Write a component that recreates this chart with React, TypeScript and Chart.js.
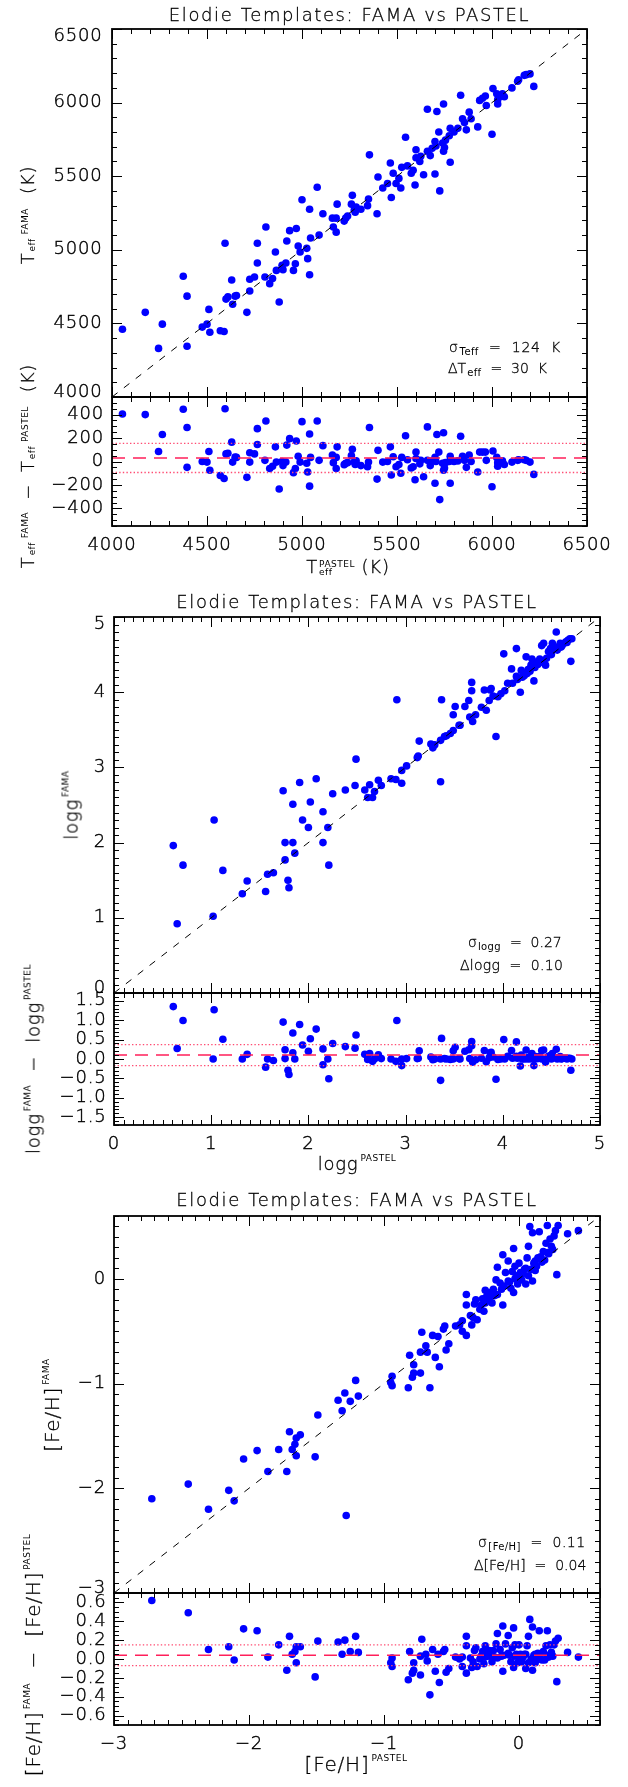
import React, { useEffect, useRef } from 'react';
import { Chart, registerables } from 'chart.js';

Chart.register(...registerables);

const W = 628;
const H = 1787;
const FONT = '"DejaVu Sans", "Liberation Sans", sans-serif';
const WEIGHT = 200;
const INK = '#000';
const BLUE = '#0000ff';
const PINK = '#ff1f5a';
const PINK_DOT = '#ff4d73';
const LABEL_SIZE = 18;
const LABEL_LS = '0.8px';
const STROKE = 0.4;

// ---------- Panel 1: Teff ----------
const TEFF_PASTEL = [
  4055, 4175, 4265, 4245, 4395, 4375, 4395, 4475, 4500, 4515,
  4510, 4570, 4590, 4595, 4600, 4610, 4630, 4635, 4655, 4710,
  4725, 4725, 4750, 4765, 4765, 4805, 4810, 4830, 4845, 4860,
  4865, 4880, 4895, 4900, 4915, 4920, 4935, 4955, 4965, 4970,
  4980, 4990, 5000, 5025, 5030, 5040, 5040, 5045,
  5080, 5090, 5110, 5160, 5165, 5180, 5185, 5180, 5230, 5240,
  5260, 5265, 5275, 5285, 5310, 5345, 5350, 5355, 5395, 5400,
  5425, 5450, 5465, 5470, 5480, 5495, 5510, 5520, 5525, 5545,
  5555, 5575, 5585, 5595, 5600, 5600, 5620, 5625, 5640, 5660,
  5660, 5675, 5700, 5700, 5705, 5710, 5725, 5720, 5740, 5745,
  5745, 5755, 5775, 5780, 5780, 5800, 5820, 5835, 5845, 5855,
  5865, 5880, 5890, 5925, 5935, 5950, 5965, 5970, 6000, 6005,
  6025, 6030, 6030, 6040, 6055, 6065, 6105, 6135, 6140, 6170,
  6180, 6200, 6220,
  4648, 5222, 5280, 5685, 5750,
];
const TEFF_FAMA = [
  4460, 4575, 4495, 4330, 4345, 4820, 4685, 4475, 4495, 4440,
  4595, 4450, 4445, 5045, 4665, 4680, 4795, 4630, 4690, 4575,
  4720, 4800, 4815, 5045, 4910, 4815, 5155, 4770, 4805, 4985,
  4860, 4645, 4895, 4865, 4910, 5060, 5130, 4860, 4905, 5145,
  5025, 4985, 5340, 5010, 4940, 4830, 5275, 5080,
  5425, 5100, 5245, 5215, 5155, 5120, 5310, 5215, 5215, 5230,
  5310, 5370, 5270, 5290, 5275, 5300, 5345, 5645, 5245, 5495,
  5420, 5450, 5590, 5355, 5520, 5450, 5485, 5420, 5560, 5765,
  5570, 5520, 5540, 5440, 5625, 5680, 5600, 5635, 5510, 5670,
  5955, 5640, 5735, 5515, 5705, 5940, 5400, 5800, 5725, 5670,
  5990, 5745, 5775, 5825, 5595, 5800, 5825, 6050, 5890, 5865,
  5815, 5935, 5890, 5835, 6015, 6030, 6045, 5980, 5785, 6095,
  6060, 5990, 6020, 6040, 6060, 6040, 6100, 6145, 6155, 6185,
  6190, 6195, 6110,
  4685, 5195, 5255, 5690, 5695,
];
const TEFF_TICKS = [4000, 4500, 5000, 5500, 6000, 6500];
const TEFF_RES_TICKS = [-400, -200, 0, 200, 400];
const TEFF_MEAN = 30;
const TEFF_SIGMA = 124;

// ---------- Panel 2: logg ----------
const LOGG_PASTEL = [
  0.61, 0.65, 0.71, 1.02, 1.03, 1.12, 1.32, 1.37, 1.56, 1.58,
  1.64, 1.74, 1.76, 1.76, 1.79, 1.80, 1.84, 1.84, 1.86, 1.91,
  1.94, 2.00, 2.02, 2.08, 2.15, 2.15, 2.20, 2.21, 2.25, 2.38,
  2.48, 2.49, 2.58, 2.61, 2.63, 2.66, 2.68, 2.72, 2.75, 2.85,
  2.90, 2.91, 2.96, 2.96, 3.01, 3.12, 3.13, 3.14, 3.26, 3.28,
  3.29, 3.36, 3.36, 3.37, 3.40, 3.46, 3.49, 3.49, 3.51, 3.55,
  3.61, 3.65, 3.66, 3.68, 3.68, 3.69, 3.72, 3.78, 3.81, 3.83,
  3.86, 3.87, 3.88, 3.90, 3.93, 3.95, 3.98, 4.01, 4.02, 4.05,
  4.09, 4.14, 4.14, 4.18, 4.19, 4.22, 4.24, 4.26, 4.29, 4.30,
  4.32, 4.34, 4.38, 4.40, 4.42, 4.44, 4.47, 4.49, 4.51, 4.53,
  4.55, 4.57, 4.59, 4.61, 4.63, 4.65, 4.67, 4.69, 4.70, 4.71,
  4.10, 4.15, 4.20, 4.25, 4.28, 4.33, 4.36, 4.40, 4.45, 4.50,
  4.56, 4.60, 4.66, 3.30, 3.42, 3.56,
];
const LOGG_FAMA = [
  1.96, 0.92, 1.70, 1.02, 2.30, 1.63, 1.32, 1.49, 1.35, 1.58,
  1.60, 2.69, 2.00, 1.77, 1.50, 1.40, 2.51, 2.00, 1.86, 2.80,
  2.30, 2.20, 2.54, 2.85, 2.41, 2.00, 2.20, 1.70, 2.65, 2.70,
  2.76, 3.11, 2.70, 2.60, 2.77, 2.60, 2.68, 2.83, 2.76, 2.85,
  2.84, 3.90, 2.79, 2.96, 3.02, 3.13, 3.15, 3.35, 3.31, 3.26,
  3.29, 2.81, 3.36, 3.90, 3.41, 3.45, 3.49, 3.70, 3.81, 3.56,
  3.81, 3.89, 3.67, 4.13, 4.02, 3.61, 3.70, 3.80, 4.03, 3.76,
  3.89, 4.03, 4.05, 3.95, 3.41, 3.94, 3.98, 4.51, 4.02, 4.12,
  4.31, 4.58, 4.21, 4.00, 4.29, 4.22, 4.47, 4.30, 4.36, 4.44,
  4.15, 4.40, 4.44, 4.62, 4.65, 4.36, 4.54, 4.58, 4.65, 4.57,
  4.80, 4.60, 4.65, 4.62, 4.65, 4.67, 4.69, 4.71, 4.41, 4.71,
  4.12, 4.17, 4.20, 4.25, 4.28, 4.33, 4.37, 4.40, 4.45, 4.50,
  4.56, 4.60, 4.66, 3.30, 3.42, 3.56,
];
const LOGG_TICKS = [0, 1, 2, 3, 4, 5];
const LOGG_RES_TICKS = [-1.5, -1.0, -0.5, 0.0, 0.5, 1.0, 1.5];
const LOGG_MEAN = 0.10;
const LOGG_SIGMA = 0.27;

// ---------- Panel 3: [Fe/H] ----------
const FEH_PASTEL = [
  -2.72, -2.45, -2.30, -2.15, -2.11, -2.04, -1.94, -1.86, -1.78, -1.72,
  -1.70, -1.68, -1.66, -1.65, -1.65, -1.62, -1.51, -1.49, -1.34, -1.31,
  -1.29, -1.25, -1.21, -1.19, -1.28, -0.95, -0.94, -0.94, -0.82, -0.81,
  -0.79, -0.78, -0.78, -0.73, -0.73, -0.72, -0.69, -0.68, -0.66, -0.64,
  -0.62, -0.60, -0.59, -0.56, -0.55, -0.54, -0.52, -0.47, -0.44, -0.42,
  -0.42, -0.39, -0.39, -0.39, -0.36, -0.35, -0.34, -0.33, -0.32, -0.31,
  -0.29, -0.28, -0.26, -0.25, -0.25, -0.24, -0.23, -0.22, -0.20, -0.16,
  -0.16, -0.17, -0.14, -0.12, -0.12, -0.11, -0.10, -0.08, -0.08, -0.06,
  -0.05, -0.04, -0.04, -0.03, -0.02, -0.01, 0.00, 0.01, 0.02, 0.04,
  0.05, 0.06, 0.07, 0.07, 0.08, 0.10, 0.09, 0.10, 0.11, 0.12,
  0.14, 0.15, 0.16, 0.18, 0.20, 0.21, 0.23, 0.24, 0.26, 0.27,
  0.28, 0.29, 0.21, 0.36, 0.44,
  -0.22, -0.19, -0.13, -0.07, -0.03, 0.00, 0.03, 0.05, 0.12, 0.17,
  0.22, 0.25, -0.27, -0.18, 0.13, 0.19,
];
const FEH_FAMA = [
  -2.10, -1.96, -2.20, -2.02, -2.12, -1.72, -1.64, -1.84, -1.63, -1.84,
  -1.46, -1.63, -1.58, -1.52, -1.69, -1.49, -1.70, -1.30, -1.16, -1.26,
  -1.09, -1.17, -0.97, -1.12, -2.26, -0.99, -1.02, -0.93, -1.04, -0.73,
  -0.94, -0.82, -0.90, -0.90, -0.70, -0.51, -0.64, -0.70, -1.04, -0.54,
  -0.75, -0.55, -0.84, -0.48, -0.45, -0.68, -0.62, -0.45, -0.44, -0.40,
  -0.50, -0.54, -0.15, -0.25, -0.35, -0.44, -0.37, -0.24, -0.20, -0.39,
  -0.29, -0.25, -0.31, -0.11, -0.23, -0.17, -0.20, -0.13, -0.23, -0.15,
  0.11, -0.01, -0.04, 0.23, -0.25, -0.07, 0.06, 0.17, -0.02, -0.09,
  0.07, 0.29, -0.13, 0.12, 0.03, -0.05, 0.15, 0.06, -0.01, 0.09,
  -0.05, 0.20, 0.31, 0.03, 0.50, 0.44, 0.09, -0.02, 0.15, 0.17,
  0.20, 0.45, 0.21, 0.26, 0.34, 0.25, 0.38, 0.31, 0.41, 0.46,
  0.04, 0.51, 0.51, 0.43, 0.46,
  -0.18, -0.10, -0.10, -0.03, 0.00, 0.02, 0.05, 0.10, 0.08, 0.16,
  0.24, 0.28, -0.19, -0.16, 0.12, 0.18,
];
const FEH_TICKS = [-3, -2, -1, 0];
const FEH_RES_TICKS = [-0.6, -0.4, -0.2, 0.0, 0.2, 0.4, 0.6];
const FEH_MEAN = 0.04;
const FEH_SIGMA = 0.11;

// ---------- helpers ----------
function steps(min: number, max: number, step: number): number[] {
  const out: number[] = [];
  const a = Math.ceil(min / step - 1e-9);
  const b = Math.floor(max / step + 1e-9);
  for (let i = a; i <= b; i++) out.push(+(i * step).toFixed(6));
  return out;
}

const fmt = (dec: number) => (v: number) => {
  const s = Math.abs(v).toFixed(dec);
  return (v < -1e-9 ? '\u2212' : '') + s;
};

const pts = (xs: number[], ys: number[]) => xs.map((x, i) => ({ x, y: ys[i] }));
const resid = (xs: number[], ys: number[]) => xs.map((x, i) => ({ x, y: +(ys[i] - x).toFixed(4) }));

const scatterDs = (data: { x: number; y: number }[]) => ({
  data,
  pointRadius: 3.8,
  pointBackgroundColor: BLUE,
  pointBorderColor: BLUE,
  pointBorderWidth: 0,
  order: 1,
});

const lineDs = (x0: number, y0: number, x1: number, y1: number, color: string, width: number, dash: number[]) => ({
  type: 'line' as const,
  data: [{ x: x0, y: y0 }, { x: x1, y: y1 }],
  borderColor: color,
  borderWidth: width,
  borderDash: dash,
  pointRadius: 0,
  fill: false,
  tension: 0,
  order: 0,
});

type PanelProps = {
  top: number;
  bottom: number;
  left: number;
  right: number;
  xMin: number;
  xMax: number;
  yMin: number;
  yMax: number;
  xLabels: number[];
  yLabels: number[];
  xMinorStep: number;
  yMinorStep: number;
  showX: boolean;
  labelGap: number;
  xFmt: (v: number) => string;
  yFmt: (v: number) => string;
  datasets: any[];
};

function Panel(p: PanelProps) {
  const ref = useRef<HTMLCanvasElement>(null);
  const padTop = 14;
  const padBottom = p.showX ? 0 : 14;
  const xAxisH = p.showX ? 62 : 0;
  const ch = padTop + (p.bottom - p.top) + padBottom + xAxisH;

  useEffect(() => {
    const xMinor = steps(p.xMin, p.xMax, p.xMinorStep);
    const yMinor = steps(p.yMin, p.yMax, p.yMinorStep);
    const framePlugin = {
      id: 'idlFrame',
      beforeDraw(chart: any) {
        try {
          chart.ctx.letterSpacing = LABEL_LS;
        } catch (e) {
          /* ignore */
        }
      },
      afterDraw(chart: any) {
        const { ctx, chartArea: a, scales } = chart;
        const sx = scales.x;
        const sy = scales.y;
        ctx.save();
        // tick marks, inward on all four sides
        ctx.strokeStyle = '#000';
        ctx.lineWidth = 1;
        ctx.setLineDash([]);
        ctx.beginPath();
        const xt = (v: number, len: number) => {
          const px = Math.round(sx.getPixelForValue(v)) + 0.5;
          ctx.moveTo(px, a.bottom);
          ctx.lineTo(px, a.bottom - len);
          ctx.moveTo(px, a.top);
          ctx.lineTo(px, a.top + len);
        };
        const yt = (v: number, len: number) => {
          const py = Math.round(sy.getPixelForValue(v)) + 0.5;
          ctx.moveTo(a.left, py);
          ctx.lineTo(a.left + len, py);
          ctx.moveTo(a.right, py);
          ctx.lineTo(a.right - len, py);
        };
        xMinor.forEach((v) => xt(v, 5));
        p.xLabels.forEach((v) => xt(v, 10));
        yMinor.forEach((v) => yt(v, 5));
        p.yLabels.forEach((v) => yt(v, 10));
        ctx.stroke();
        ctx.lineWidth = 1.8;
        ctx.strokeRect(a.left, a.top, a.right - a.left, a.bottom - a.top);

        // y tick labels (edge labels nudged inside the frame, as in the original)
        ctx.font = `${WEIGHT} ${LABEL_SIZE}px ${FONT}`;
        ctx.fillStyle = INK;
        ctx.strokeStyle = INK;
        ctx.lineWidth = STROKE;
        ctx.textAlign = 'right';
        ctx.textBaseline = 'middle';
        try {
          ctx.letterSpacing = LABEL_LS;
        } catch (e) {
          /* ignore */
        }
        p.yLabels.forEach((v) => {
          let py = sy.getPixelForValue(v);
          if (Math.abs(v - p.yMax) < 1e-9) py += 7.5;
          if (Math.abs(v - p.yMin) < 1e-9) py -= 5;
          const s = p.yFmt(v);
          ctx.fillText(s, a.left - p.labelGap, py);
          ctx.strokeText(s, a.left - p.labelGap, py);
        });
        ctx.restore();
      },
    };

    const tickFont = { family: FONT, size: LABEL_SIZE, weight: WEIGHT };
    const chart = new Chart(ref.current as HTMLCanvasElement, {
      type: 'scatter',
      data: { datasets: p.datasets },
      options: {
        animation: false,
        responsive: false,
        events: [],
        layout: { padding: { left: 0, right: W - p.right, top: padTop, bottom: padBottom } },
        plugins: { legend: { display: false }, tooltip: { enabled: false } },
        scales: {
          x: {
            type: 'linear',
            position: 'bottom',
            min: p.xMin,
            max: p.xMax,
            grid: { display: false, drawTicks: false },
            border: { display: false },
            ticks: {
              display: p.showX,
              font: tickFont,
              color: INK,
              textStrokeColor: INK,
              textStrokeWidth: STROKE,
              padding: 9,
              maxRotation: 0,
              autoSkip: false,
              callback: (v: any) => p.xFmt(Number(v)),
            },
            afterBuildTicks: (s: any) => {
              s.ticks = p.xLabels.map((v) => ({ value: v }));
            },
            afterFit: (s: any) => {
              s.height = xAxisH;
            },
          },
          y: {
            type: 'linear',
            position: 'left',
            min: p.yMin,
            max: p.yMax,
            grid: { display: false, drawTicks: false },
            border: { display: false },
            ticks: { display: false },
            afterBuildTicks: (s: any) => {
              s.ticks = p.yLabels.map((v) => ({ value: v }));
            },
            afterFit: (s: any) => {
              s.width = p.left;
            },
          },
        },
      } as any,
      plugins: [framePlugin],
    });
    return () => chart.destroy();
  }, []);

  return (
    <canvas
      ref={ref}
      width={W}
      height={ch}
      style={{ position: 'absolute', left: 0, top: p.top - padTop, width: W, height: ch }}
    />
  );
}

// ---------- text helpers ----------
const baseText: React.CSSProperties = {
  position: 'absolute',
  fontFamily: FONT,
  fontWeight: WEIGHT,
  lineHeight: 1,
  color: INK,
  whiteSpace: 'pre',
  WebkitTextStroke: `${STROKE * 0.75}px ${INK}`,
};

const Txt = ({ x, y, rot = false, size = 18, ls = 0.8, children }: any) => (
  <div
    style={{
      ...baseText,
      left: x,
      top: y,
      transform: `translate(-50%, -50%)${rot ? ' rotate(-90deg)' : ''}`,
      fontSize: size,
      letterSpacing: ls,
    }}
  >
    {children}
  </div>
);

const TxtL = ({ x, base, size = 14, ls = 0, children }: any) => (
  <div
    style={{
      ...baseText,
      left: x,
      top: base - Math.round(size * 0.846),
      fontSize: size,
      letterSpacing: ls,
    }}
  >
    {children}
  </div>
);

const small: React.CSSProperties = { fontWeight: 400, WebkitTextStroke: '0px' };

// stacked super/subscript (sup above, sub below, same start)
const SS = ({ sup, sub }: any) => (
  <span
    style={{
      ...small,
      display: 'inline-flex',
      flexDirection: 'column',
      fontSize: 9,
      lineHeight: '8px',
      verticalAlign: '6.5px',
      letterSpacing: 0.5,
      marginLeft: 1,
    }}
  >
    <span>{sup}</span>
    <span>{sub}</span>
  </span>
);
const Sup = ({ t, up = 9, ml = 2 }: any) => (
  <span style={{ ...small, fontSize: 9, verticalAlign: `${up}px`, letterSpacing: 0.5, marginLeft: ml }}>{t}</span>
);
const Sub = ({ t, d = 1, size = 9 }: any) => (
  <span style={{ ...small, fontSize: size, verticalAlign: `-${d}px`, letterSpacing: 0.4, marginLeft: 1 }}>{t}</span>
);
const Gap = ({ w }: any) => <span style={{ display: 'inline-block', width: w }} />;

// "T_eff" followed by a superscript, written one after the other
const Teff = ({ sup }: any) => (
  <>
    T<Sub t="eff" d={1} />
    <Sup t={sup} up={6.5} ml={4} />
  </>
);

const TITLE = 'Elodie Templates: FAMA vs PASTEL';

export default function App() {
  useEffect(() => {
    document.body.style.margin = '0';
  }, []);

  const f0 = fmt(0);
  const f1 = fmt(1);

  return (
    <div
      style={{
        position: 'absolute',
        left: 0,
        top: 0,
        width: W,
        height: H,
        overflow: 'hidden',
        background: '#fff',
      }}
    >
      {/* Panel 1 */}
      <Panel
        top={29} bottom={397} left={112} right={587}
        xMin={4000} xMax={6500} yMin={4000} yMax={6500}
        xLabels={TEFF_TICKS} yLabels={TEFF_TICKS}
        xMinorStep={100} yMinorStep={100}
        showX={false} labelGap={9.5} xFmt={f0} yFmt={f0}
        datasets={[
          scatterDs(pts(TEFF_PASTEL, TEFF_FAMA)),
          lineDs(4000, 4000, 6500, 6500, '#000', 1, [7, 8]),
        ]}
      />
      <Panel
        top={397} bottom={526} left={112} right={587}
        xMin={4000} xMax={6500} yMin={-550} yMax={550}
        xLabels={TEFF_TICKS} yLabels={TEFF_RES_TICKS}
        xMinorStep={100} yMinorStep={50}
        showX={true} labelGap={8} xFmt={f0} yFmt={f0}
        datasets={[
          scatterDs(resid(TEFF_PASTEL, TEFF_FAMA)),
          lineDs(4000, TEFF_MEAN, 6500, TEFF_MEAN, PINK, 1.5, [13, 8]),
          lineDs(4000, TEFF_MEAN + TEFF_SIGMA, 6500, TEFF_MEAN + TEFF_SIGMA, PINK_DOT, 1.3, [1.4, 2.2]),
          lineDs(4000, TEFF_MEAN - TEFF_SIGMA, 6500, TEFF_MEAN - TEFF_SIGMA, PINK_DOT, 1.3, [1.4, 2.2]),
        ]}
      />

      {/* Panel 2 */}
      <Panel
        top={617} bottom={993} left={114} right={600}
        xMin={0} xMax={5} yMin={0} yMax={5}
        xLabels={LOGG_TICKS} yLabels={LOGG_TICKS}
        xMinorStep={0.1} yMinorStep={0.1}
        showX={false} labelGap={8} xFmt={f0} yFmt={f0}
        datasets={[
          scatterDs(pts(LOGG_PASTEL, LOGG_FAMA)),
          lineDs(0, 0, 5, 5, '#000', 1, [7, 8]),
        ]}
      />
      <Panel
        top={993} bottom={1125} left={114} right={600}
        xMin={0} xMax={5} yMin={-1.7} yMax={1.7}
        xLabels={LOGG_TICKS} yLabels={LOGG_RES_TICKS}
        xMinorStep={0.1} yMinorStep={0.1}
        showX={true} labelGap={7.5} xFmt={f0} yFmt={f1}
        datasets={[
          scatterDs(resid(LOGG_PASTEL, LOGG_FAMA)),
          lineDs(0, LOGG_MEAN, 5, LOGG_MEAN, PINK, 1.5, [13, 8]),
          lineDs(0, LOGG_MEAN + LOGG_SIGMA, 5, LOGG_MEAN + LOGG_SIGMA, PINK_DOT, 1.3, [1.4, 2.2]),
          lineDs(0, LOGG_MEAN - LOGG_SIGMA, 5, LOGG_MEAN - LOGG_SIGMA, PINK_DOT, 1.3, [1.4, 2.2]),
        ]}
      />

      {/* Panel 3 */}
      <Panel
        top={1216} bottom={1593} left={114} right={600}
        xMin={-3} xMax={0.6} yMin={-3} yMax={0.6}
        xLabels={FEH_TICKS} yLabels={FEH_TICKS}
        xMinorStep={0.1} yMinorStep={0.1}
        showX={false} labelGap={8} xFmt={f0} yFmt={f0}
        datasets={[
          scatterDs(pts(FEH_PASTEL, FEH_FAMA)),
          lineDs(-3, -3, 0.6, 0.6, '#000', 1, [7, 8]),
        ]}
      />
      <Panel
        top={1593} bottom={1725} left={114} right={600}
        xMin={-3} xMax={0.6} yMin={-0.7} yMax={0.7}
        xLabels={FEH_TICKS} yLabels={FEH_RES_TICKS}
        xMinorStep={0.1} yMinorStep={0.05}
        showX={true} labelGap={7.5} xFmt={f0} yFmt={f1}
        datasets={[
          scatterDs(resid(FEH_PASTEL, FEH_FAMA)),
          lineDs(-3, FEH_MEAN, 0.6, FEH_MEAN, PINK, 1.5, [13, 8]),
          lineDs(-3, FEH_MEAN + FEH_SIGMA, 0.6, FEH_MEAN + FEH_SIGMA, PINK_DOT, 1.3, [1.4, 2.2]),
          lineDs(-3, FEH_MEAN - FEH_SIGMA, 0.6, FEH_MEAN - FEH_SIGMA, PINK_DOT, 1.3, [1.4, 2.2]),
        ]}
      />

      {/* Panel 1 text */}
      <Txt x={349.5} y={15} ls={1.6}>{TITLE}</Txt>
      <Txt x={27.5} y={215} rot>
        <Teff sup="FAMA" />
        <Gap w={14} />(K)
      </Txt>
      <Txt x={28} y={466} rot>
        <Teff sup="FAMA" />
        <Gap w={12} />{'\u2212'}<Gap w={12} />
        <Teff sup="PASTEL" />
        <Gap w={14} />(K)
      </Txt>
      <Txt x={348} y={567}>
        T<SS sup="PASTEL" sub="eff" /> (K)
      </Txt>
      <TxtL x={449} base={352} ls={0.7}>σ<Sub t="Teff" d={3} size={10} />{`  =  ${TEFF_SIGMA}  K`}</TxtL>
      <TxtL x={448} base={373}>ΔT<Sub t="eff" d={3} size={10} />{`  =  ${TEFF_MEAN}  K`}</TxtL>

      {/* Panel 2 text */}
      <Txt x={357} y={602} ls={1.6}>{TITLE}</Txt>
      <Txt x={70.5} y={805} rot>logg<Sup t="FAMA" /></Txt>
      <Txt x={32.5} y={1059} rot>
        logg<Sup t="FAMA" />{'  \u2212  '}logg<Sup t="PASTEL" />
      </Txt>
      <Txt x={357} y={1163}>logg<Sup t="PASTEL" /></Txt>
      <TxtL x={468} base={947}>σ<Sub t="logg" d={3} size={10} />{`  =  ${LOGG_SIGMA.toFixed(2)}`}</TxtL>
      <TxtL x={460} base={970} ls={0.25}>{`Δlogg  =  ${LOGG_MEAN.toFixed(2)}`}</TxtL>

      {/* Panel 3 text */}
      <Txt x={357} y={1200} ls={1.6}>{TITLE}</Txt>
      <Txt x={52} y={1405} rot size={20}>[Fe/H]<Sup t="FAMA" up={9.6} /></Txt>
      <Txt x={33} y={1655} rot size={20}>
        [Fe/H]<Sup t="FAMA" up={9.6} />{'  \u2212  '}[Fe/H]<Sup t="PASTEL" up={9.6} />
      </Txt>
      <Txt x={356} y={1763.5} size={20}>[Fe/H]<Sup t="PASTEL" up={9.6} /></Txt>
      <TxtL x={478} base={1547} ls={0.45}>σ<Sub t="[Fe/H]" d={3} size={10} />{`  =  ${FEH_SIGMA.toFixed(2)}`}</TxtL>
      <TxtL x={474} base={1570}>{`Δ[Fe/H]  =  ${FEH_MEAN.toFixed(2)}`}</TxtL>
    </div>
  );
}
